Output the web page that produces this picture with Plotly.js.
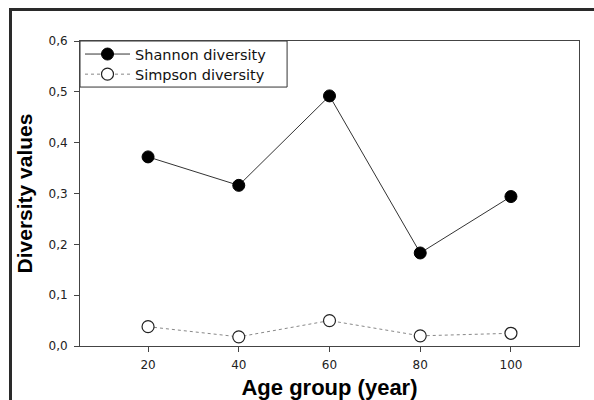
<!DOCTYPE html>
<html>
<head>
<meta charset="utf-8">
<script src="https://cdn.plot.ly/plotly-3.0.1.min.js"></script>
<style>
  html, body { margin: 0; padding: 0; background: #fff; }
  #wrap { position: relative; width: 594px; height: 400px; overflow: hidden; }
  #chart { position: absolute; left: 0; top: 0; width: 594px; height: 400px; }
  #frame { position: absolute; left: 9px; top: 8px; width: 600px; height: 400px;
           border-top: 3px solid #2a2a2a; border-left: 3px solid #2a2a2a; pointer-events: none; }
</style>
</head>
<body>
<div id="wrap">
  <div id="chart"></div>
  <div id="frame"></div>
</div>
<script>
const ageGroups = [20, 40, 60, 80, 100];
const shannonDiversity = [0.372, 0.316, 0.492, 0.183, 0.294];
const simpsonDiversity = [0.038, 0.018, 0.050, 0.020, 0.025];
const xTickValues = [20, 40, 60, 80, 100];
const yTickValues = [0, 0.1, 0.2, 0.3, 0.4, 0.5, 0.6];
const seriesNames = ["Shannon diversity", "Simpson diversity"];

const TITLE_FONT = "Liberation Sans, Arial, sans-serif";
const TEXT_FONT = "DejaVu Sans, sans-serif";

const traces = [
  {
    x: ageGroups, y: shannonDiversity, name: seriesNames[0], legend: "legend",
    type: "scatter", mode: "lines+markers",
    line: { color: "#333333", width: 1 },
    marker: { symbol: "circle", size: 12, color: "#000000", line: { color: "#000000", width: 1 } }
  },
  {
    x: ageGroups, y: simpsonDiversity, name: seriesNames[1], legend: "legend2",
    type: "scatter", mode: "lines+markers",
    line: { color: "#888888", width: 1, dash: "dot" },
    marker: { symbol: "circle", size: 12, color: "#ffffff", line: { color: "#222222", width: 1.2 } }
  }
];

const legendCommon = {
  x: 0, xanchor: "left", yanchor: "middle",
  bgcolor: "rgba(0,0,0,0)", borderwidth: 0,
  font: { family: TEXT_FONT, size: 14.5, color: "#111111" },
  itemwidth: 45
};

const layout = {
  width: 594, height: 400,
  margin: { l: 80, r: 15, t: 41, b: 54, pad: 0 },
  paper_bgcolor: "#ffffff", plot_bgcolor: "#ffffff",
  separators: ",.",
  font: { family: TEXT_FONT, color: "#222222" },
  showlegend: true,
  legend: Object.assign({}, legendCommon, { y: 0.957 }),
  legend2: Object.assign({}, legendCommon, { y: 0.891 }),
  shapes: [
    { type: "rect", xref: "paper", yref: "paper", x0: 0, x1: 0.415, y0: 0.849, y1: 1,
      line: { color: "#333333", width: 1 }, fillcolor: "#ffffff", layer: "below" }
  ],
  xaxis: {
    range: [5, 115], tickmode: "array", tickvals: xTickValues,
    showgrid: false, zeroline: false,
    showline: true, linecolor: "#444444", linewidth: 1, mirror: true,
    ticks: "outside", ticklen: 5, tickcolor: "#444444", tickwidth: 1,
    tickfont: { family: TEXT_FONT, size: 12, color: "#222222" },
    ticklabelstandoff: 3,
    title: { text: "Age group (year)", font: { family: TITLE_FONT, size: 22, color: "#000000", weight: "bold" }, standoff: 13 }
  },
  yaxis: {
    range: [0, 0.6], tickmode: "array", tickvals: yTickValues, tickformat: ".1f",
    showgrid: false, zeroline: false,
    showline: true, linecolor: "#444444", linewidth: 1, mirror: true,
    ticks: "outside", ticklen: 5, tickcolor: "#444444", tickwidth: 1,
    tickfont: { family: TEXT_FONT, size: 12, color: "#222222" },
    ticklabelstandoff: 4,
    title: { text: "Diversity values", font: { family: TITLE_FONT, size: 21, color: "#000000", weight: "bold" }, standoff: 10 }
  }
};

Plotly.newPlot("chart", traces, layout, { staticPlot: true, displayModeBar: false });
</script>
</body>
</html>
